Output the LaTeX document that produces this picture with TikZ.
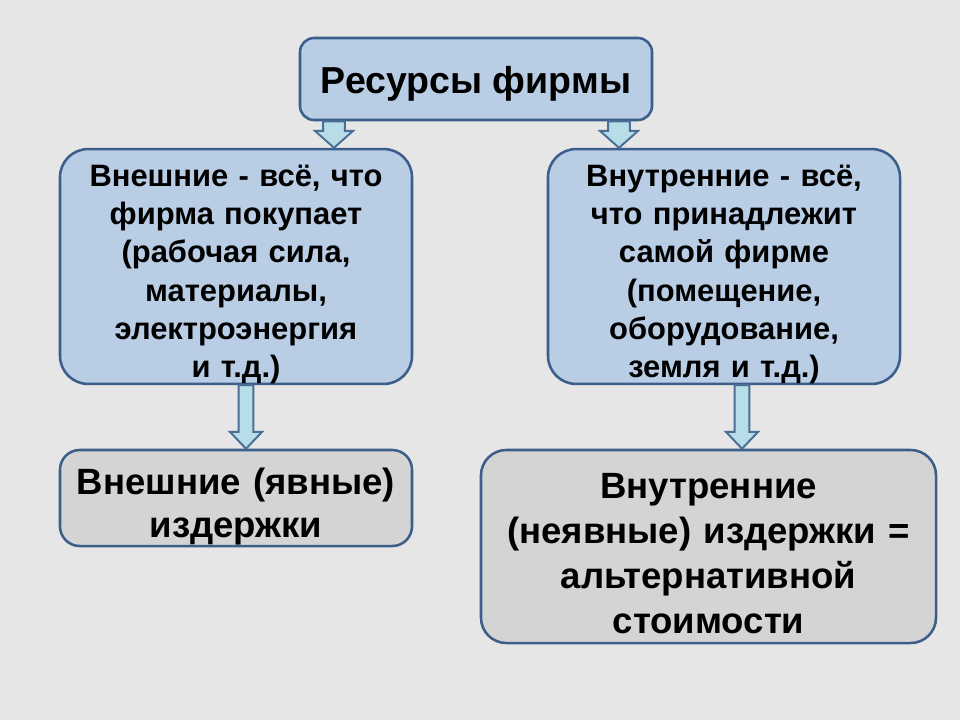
\documentclass[tikz,border=0pt]{standalone}
\usepackage{fontspec}
\setmainfont{Liberation Sans}
\usetikzlibrary{calc}
\definecolor{bggray}{HTML}{E6E6E6}
\definecolor{boxblue}{HTML}{B9CDE5}
\definecolor{boxline}{HTML}{3B5E8A}
\definecolor{boxgray}{HTML}{D4D4D4}
\definecolor{arrowfill}{HTML}{B7DEE8}
\definecolor{arrowline}{HTML}{4A6E95}
\tikzset{
    %Define style for the blue boxes
    bluebox/.style={
           rectangle,
           draw=boxline, line width=1.8pt,
           fill=boxblue,
           inner sep=0pt,
           align=center},
    %Define style for the gray boxes
    graybox/.style={
           bluebox,
           fill=boxgray},
    % Define block arrow style (shaft half width, head half width)
    blockarrow/.style 2 args={
           draw=arrowline, line width=1.4pt,
           fill=arrowfill,
           to path={let \p1=(\tikztostart), \p2=(\tikztotarget) in
             (\x1-#1,\y1) -- (\x1+#1,\y1) -- (\x1+#1,\y2+12pt) -- (\x1+#2,\y2+12pt)
             -- (\x1,\y2) -- (\x1-#2,\y2+12pt) -- (\x1-#1,\y2+12pt) -- cycle}}
}
\begin{document}
\begin{tikzpicture}[x=0.25mm,y=-0.25mm,
  topfont/.style={font=\fontsize{26.7pt}{30pt}\selectfont\bfseries, text height=26.8pt},
  midfont/.style={font=\fontsize{22pt}{27.2pt}\selectfont\bfseries, text height=26.5pt},
  botfont/.style={font=\fontsize{26pt}{32pt}\selectfont\bfseries}]
\useasboundingbox[fill=bggray] (0,0) rectangle (960,720);
\node[bluebox, topfont, rounded corners=10pt, minimum width=88mm, minimum height=20.5mm]
  (res) at (476,79) {Ресурсы фирмы};
\node[bluebox, midfont, rounded corners=20pt, text width=86mm, minimum width=88mm, minimum height=58.25mm]
  (ext) at (236,266.5) {Внешние - всё, что\\фирма покупает\\(рабочая сила,\\материалы,\\электроэнергия\\и т.д.)};
\node[bluebox, midfont, rounded corners=20pt, text width=86mm, minimum width=88mm, minimum height=58.25mm]
  (int) at (724,266.5) {Внутренние - всё,\\что принадлежит\\самой фирме\\(помещение,\\оборудование,\\земля и т.д.)};
\node[graybox, botfont, font=\fontsize{26pt}{30pt}\selectfont\bfseries, text height=31pt,
  rounded corners=14pt, text width=86mm, minimum width=88mm, minimum height=24mm]
  (expl) at (236,498) {Внешние (явные)\\издержки};
\node[graybox, botfont, text height=27.8pt, rounded corners=18pt, text width=110mm, minimum width=113.75mm, minimum height=48.25mm]
  (impl) at (708.5,546.5) {Внутренние\\(неявные) издержки =\\альтернативной\\стоимости};
% arrow positions
\coordinate (a1) at (334,0);
\coordinate (a2) at (619,0);
\coordinate (a3) at (246,0);
\coordinate (a4) at (742,0);
\draw[blockarrow={7.8pt}{13.5pt}] (res.south -| a1) to (ext.north -| a1);
\draw[blockarrow={7.8pt}{13.5pt}] (res.south -| a2) to (int.north -| a2);
\draw[blockarrow={5.2pt}{11.4pt}] (ext.south -| a3) to (expl.north -| a3);
\draw[blockarrow={5.2pt}{11.4pt}] (int.south -| a4) to (impl.north -| a4);
\end{tikzpicture}
\end{document}
